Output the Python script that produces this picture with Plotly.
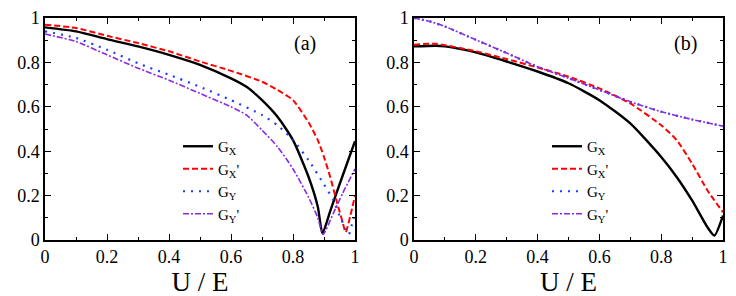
import plotly.graph_objects as go

# ---------------- data: panel (a) ----------------
a_gx_u = [0, .1, .2, .3, .4, .5, .6, .65, .7, .75, .8, .85, .88, .895, .92, .95, 1.0]
a_gx = [.958, .94, .905, .872, .834, .789, .728, .69, .63, .555, .45, .285, .15, .03, .13, .25, .445]

a_gxp_u = [0, .1, .2, .3, .4, .5, .6, .7, .75, .8, .85, .88, .9, .92, .94, .96, .97, .985, 1.0]
a_gxp = [.97, .955, .92, .887, .85, .804, .762, .713, .676, .63, .53, .45, .374, .284, .18, .08, .035, .11, .20]

a_gy_u = [0, .1, .2, .3, .4, .5, .6, .7, .75, .8, .85, .9, .93, .95, .97, .98, .99, 1.0]
a_gy = [.94, .91, .857, .796, .744, .69, .63, .563, .517, .45, .36, .25, .18, .11, .05, .025, .07, .12]

a_gyp_u = [0, .1, .2, .3, .4, .5, .6, .65, .7, .75, .8, .85, .88, .897, .93, .96, 1.0]
a_gyp = [.928, .894, .834, .774, .72, .66, .6, .563, .495, .42, .32, .193, .10, .025, .12, .21, .32]

# ---------------- data: panel (b) ----------------
b_gx_u = [0, .07, .1, .2, .3, .4, .5, .6, .7, .8, .85, .9, .95, .972, 1.0]
b_gx = [.872, .875, .872, .845, .804, .759, .706, .63, .525, .374, .284, .178, .057, .02, .11]

b_gxp_u = [0, .07, .2, .3, .4, .5, .6, .7, .8, .85, .9, .95, 1.0]
b_gxp = [.88, .884, .85, .815, .777, .736, .683, .615, .517, .45, .344, .223, .125]

b_gy_u = [0, .05, .1, .2, .3, .4, .5, .6, .7, .8, .9, 1.0]
b_gy = [1.0, .985, .962, .902, .842, .78, .729, .676, .623, .578, .543, .513]

b_gyp_u = [0, .05, .1, .2, .3, .4, .5, .6, .7, .8, .9, 1.0]
b_gyp = [1.0, .985, .962, .902, .842, .78, .729, .676, .623, .578, .543, .513]

names = ["G<sub>X</sub>", "G<sub>X</sub>'", "G<sub>Y</sub>", "G<sub>Y</sub>'"]
panel_labels = ["(a)", "(b)"]
x_title = "U / E"

styles = [
    dict(color="#000000", width=2.4, dash="solid"),
    dict(color="#ff0000", width=2.0, dash="6px,3px"),
    dict(color="#1a3cff", width=2.2, dash="2px,6px"),
    dict(color="#8a2be2", width=1.6, dash="6px,2px,2px,2px"),
]

FONT = "'Liberation Serif', 'DejaVu Serif', serif"

fig = go.Figure()

panels = [
    ("x", "y", "legend", [(a_gx_u, a_gx), (a_gxp_u, a_gxp), (a_gy_u, a_gy), (a_gyp_u, a_gyp)]),
    ("x2", "y2", "legend2", [(b_gx_u, b_gx), (b_gxp_u, b_gxp), (b_gy_u, b_gy), (b_gyp_u, b_gyp)]),
]
for xa, ya, lg, series in panels:
    for i, (u, g) in enumerate(series):
        fig.add_trace(go.Scatter(x=u, y=g, mode="lines", name=names[i], line=dict(styles[i], shape="spline", smoothing=0.6),
                                 xaxis=xa, yaxis=ya, legend=lg, showlegend=True))

W, H = 736, 296
OFF = 8  # page body margin
xdoms = [[(45 - OFF) / W, (355 - OFF) / W], [(414 - OFF) / W, (723 - OFF) / W]]
ydom = [(H - (240 - OFF)) / H, (H - (18 - OFF)) / H]

axis_common = dict(
    range=[0, 1], dtick=0.2, ticks="inside", ticklen=6, tickwidth=1.2, tickcolor="black",
    showline=True, linecolor="black", linewidth=1.5, mirror="allticks", showgrid=False,
    zeroline=False, automargin=False, tickfont=dict(family=FONT, size=18, color="black"),
    minor=dict(ticks="inside", ticklen=3, dtick=0.1, tickwidth=1, tickcolor="black", showgrid=False),
)

layout = dict(
    width=W, height=H, margin=dict(l=0, r=0, t=0, b=0, autoexpand=False),
    paper_bgcolor="white", plot_bgcolor="white",
    font=dict(family=FONT, color="black"),
)
for k, (xa, ya) in enumerate([("xaxis", "yaxis"), ("xaxis2", "yaxis2")]):
    anchor_x = "y" if k == 0 else "y2"
    anchor_y = "x" if k == 0 else "x2"
    layout[xa] = dict(axis_common, domain=xdoms[k], anchor=anchor_x,
                      title=dict(text=x_title, font=dict(family=FONT, size=27), standoff=1))
    layout[ya] = dict(axis_common, domain=ydom, anchor=anchor_y)

legend_common = dict(bgcolor="rgba(0,0,0,0)", font=dict(family=FONT, size=15, color="black"),
                     itemwidth=30, tracegroupgap=0, xanchor="left", yanchor="top",
                     orientation="v")
layout["legend"] = dict(legend_common, x=(178 - OFF) / W, y=1 - (130 - OFF) / H)
layout["legend2"] = dict(legend_common, x=(547 - OFF) / W, y=1 - (130 - OFF) / H)

layout["annotations"] = [
    dict(text=panel_labels[0], xref="x domain", yref="y domain", x=0.84, y=0.883,
         xanchor="center", yanchor="middle", showarrow=False, font=dict(family=FONT, size=20)),
    dict(text=panel_labels[1], xref="x2 domain", yref="y2 domain", x=0.88, y=0.883,
         xanchor="center", yanchor="middle", showarrow=False, font=dict(family=FONT, size=20)),
]

fig.update_layout(**layout)
fig.write_html("out.html")
